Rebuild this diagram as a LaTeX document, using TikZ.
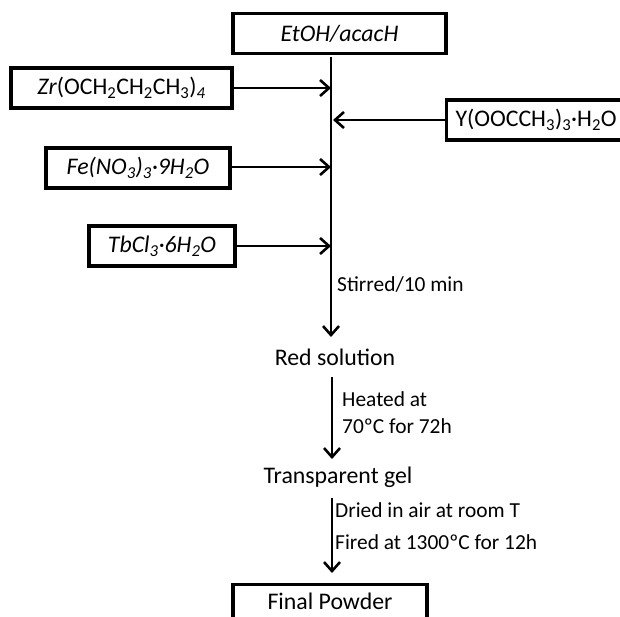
\documentclass[tikz,border=0pt]{standalone}
\usepackage{fontspec}
\setmainfont{Carlito}
\usetikzlibrary{arrows.meta}
\tikzset{
  box/.style={draw, line width=3.1pt, inner sep=0pt, minimum height=40pt, font=\fontsize{23.8}{26}\selectfont},
  plain/.style={inner sep=0pt, font=\fontsize{23.8}{26}\selectfont},
  note/.style={inner sep=0pt, anchor=west, font=\fontsize{21.4}{23}\selectfont},
  flow/.style={line width=2.6pt, -{Straight Barb[length=9pt,width=16pt,line width=2.6pt]}},
}
\newcommand{\sbs}[1]{\textsubscript{#1}}
\begin{document}
\begin{tikzpicture}[x=1pt,y=-1pt]
\useasboundingbox (0,0) rectangle (620,616);
\fill[white] (0,0) rectangle (620,616);
\clip (0,0) rectangle (620,616);
% boxes
\node[box, minimum width=213pt] (etoh) at (339.5,33.5) {\itshape EtOH/acacH};
\node[box, minimum width=221pt] (zr) at (121.5,88) {\textit{Zr}(OCH\sbs{2}CH\sbs{2}CH\sbs{3})\sbs{\itshape 4}};
\node[box, inner xsep=9pt, anchor=west] (y) at (445,120) {Y(OOCCH\sbs{3})\sbs{3}·H\sbs{2}O};
\node[box, minimum width=184pt] (fe) at (138,168) {\itshape Fe(NO\sbs{3})\sbs{3}·9H\sbs{2}O};
\node[box, minimum width=146pt] (tb) at (162,246) {\itshape TbCl\sbs{3}·6H\sbs{2}O};
\node[plain] (rs) at (335,357) {Red solution};
\node[plain] (tg) at (338,477) {Transparent gel};
\node[box, minimum width=194pt, minimum height=34pt, anchor=north] (fp) at (330,583) {Final Powder};
% junction coordinates on the main line
\coordinate (top) at (331,57);
\coordinate (jzr) at (331,88);
\coordinate (jy) at (331,120);
\coordinate (jfe) at (331,167);
\coordinate (jtb) at (331,246);
\coordinate (rsin) at (331,337);
\coordinate (rsout) at (332,377);
\coordinate (tgin) at (332,459);
\coordinate (tgout) at (332,498);
\coordinate (fpin) at (332,573);
% connectors
\draw[flow] (top) -- (rsin);
\draw[flow] (zr.east) -- (jzr);
\draw[flow] (y.west |- jy) -- ([xshift=2pt]jy);
\draw[flow] (fe.east |- jfe) -- (jfe);
\draw[flow] (tb.east) -- (jtb);
\draw[flow] (rsout) -- (tgin);
\draw[flow] (tgout) -- (fpin);
% notes
\node[note] (n1) at (337,285) {Stirred/10 min};
\node[note] (n2) at (342,399) {Heated at};
\node[note] (n3) at (342,426) {70ºC for 72h};
\node[note] (n4) at (335,510) {Dried in air at room T};
\node[note] (n5) at (335,542) {Fired at 1300ºC for 12h};
\end{tikzpicture}
\end{document}
